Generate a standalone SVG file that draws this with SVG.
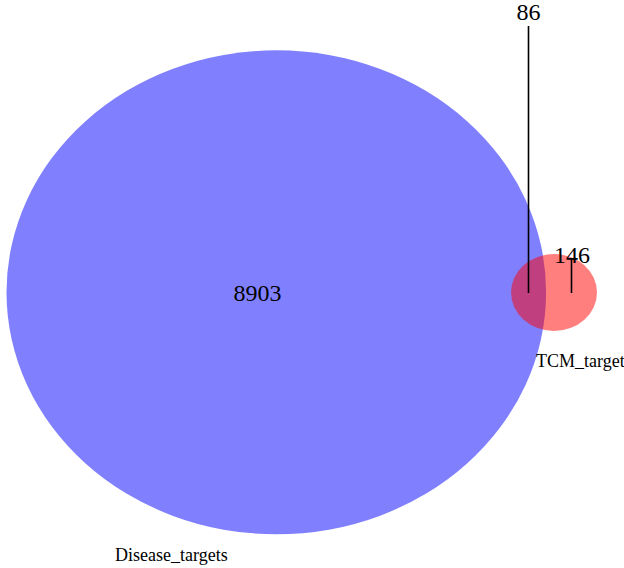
<svg xmlns="http://www.w3.org/2000/svg" width="624" height="568" viewBox="0 0 624 568">
<style>
text{font-family:'Liberation Serif','Times New Roman',Times,serif;fill:#000}
.num{font-size:24px;text-anchor:middle}
.name{font-size:18px}
.lead{stroke:#000;stroke-width:1.6;fill:none}
</style>
<rect width="624" height="568" fill="#fff"/>
<g id="disease_targets">
<ellipse cx="276.3" cy="292.3" rx="269.8" ry="242" fill="#8080FF"/>
<text class="name" x="115" y="561">Disease_targets</text>
</g>
<g id="tcm_target">
<ellipse cx="554" cy="292.5" rx="43" ry="38.5" fill="#FF0000" fill-opacity="0.5"/>
<text class="name" x="536" y="366.5">TCM_target</text>
</g>
<g id="region_labels">
<text class="num" x="257.5" y="300.5">8903</text>
<text class="num" x="528.5" y="19.5">86</text>
<text class="num" x="572" y="263">146</text>
</g>
<g id="connectors">
<line class="lead" x1="528.5" y1="26" x2="528.5" y2="293"/>
<line class="lead" x1="571.5" y1="258" x2="571.5" y2="293"/>
</g>
</svg>
